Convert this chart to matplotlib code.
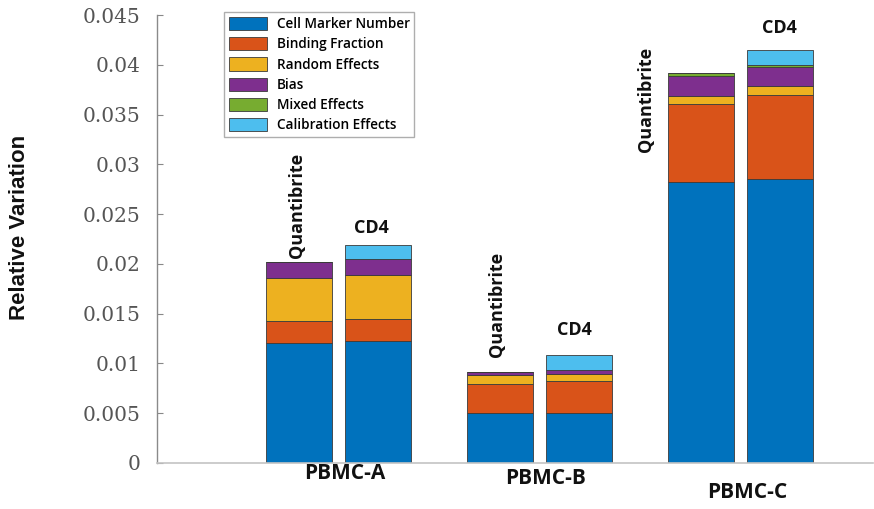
import numpy as np
import matplotlib
matplotlib.use("Agg")
import matplotlib.pyplot as plt
from matplotlib.ticker import FixedLocator, FixedFormatter

# Sample groups and the two calibration references per group
categories = ["PBMC-A", "PBMC-B", "PBMC-C"]
references = ["Quantibrite", "CD4"]

components = ["Cell Marker Number", "Binding Fraction", "Random Effects",
              "Bias", "Mixed Effects", "Calibration Effects"]

# Variance contributions, Quantibrite reference
cell_marker_q = [0.0121, 0.0050, 0.0282]
binding_q = [0.0022, 0.0029, 0.0079]
random_q = [0.0043, 0.0009, 0.0008]
bias_q = [0.0016, 0.0003, 0.0020]
mixed_q = [0.0, 0.0, 0.0003]
calib_q = [0.0, 0.0, 0.0]

# Variance contributions, CD4 reference
cell_marker_cd4 = [0.0123, 0.0050, 0.0285]
binding_cd4 = [0.0022, 0.0032, 0.0085]
random_cd4 = [0.0044, 0.0007, 0.0009]
bias_cd4 = [0.0016, 0.0004, 0.0019]
mixed_cd4 = [0.0, 0.0, 0.0002]
calib_cd4 = [0.0014, 0.0015, 0.0015]

yticks = [0, 0.005, 0.01, 0.015, 0.02, 0.025, 0.03, 0.035, 0.04, 0.045]
ytick_labels = ["0", "0.005", "0.01", "0.015", "0.02", "0.025",
                "0.03", "0.035", "0.04", "0.045"]

colors = ["#0072BD", "#D95319", "#EDB120", "#7E2F8E", "#77AC30", "#4DBEEE"]

bold_font = "Open Sans"

fig = plt.figure(figsize=(8.74, 5.09), dpi=100)
ax = fig.add_axes([157 / 874, 46 / 509, 716 / 874, 448 / 509])

x = np.arange(1, len(categories) + 1)
offset = 0.196
width = 0.328

stacks = {
    "Quantibrite": [cell_marker_q, binding_q, random_q, bias_q, mixed_q, calib_q],
    "CD4": [cell_marker_cd4, binding_cd4, random_cd4, bias_cd4, mixed_cd4, calib_cd4],
}

handles = []
for ref, dx in zip(references, (-offset, offset)):
    bottom = np.zeros(len(categories))
    for i, vals in enumerate(stacks[ref]):
        vals = np.asarray(vals)
        bars = ax.bar(x + dx, vals, width, bottom=bottom, color=colors[i],
                      edgecolor="#3a3a3a", linewidth=0.6, label=components[i])
        if ref == "Quantibrite":
            handles.append(bars)
        bottom = bottom + vals

ax.set_xlim(0.0993, 3.656)
ax.set_ylim(0, 0.045)

ax.yaxis.set_major_locator(FixedLocator(yticks))
ax.yaxis.set_major_formatter(FixedFormatter(ytick_labels))
ax.tick_params(axis="y", direction="in", length=4, width=0.8, color="#888888",
               pad=12, labelsize=14.5, labelcolor="#555555")
for lab in ax.get_yticklabels():
    lab.set_family("DejaVu Serif")
ax.set_xticks([])

for side in ("top", "right"):
    ax.spines[side].set_visible(False)
ax.spines["left"].set_color("#8a8a8a")
ax.spines["bottom"].set_color("#c4c4c4")
ax.spines["left"].set_linewidth(1.0)
ax.spines["bottom"].set_linewidth(1.2)

ax.set_ylabel("Relative Variation", fontsize=16, fontweight="bold",
              family="Liberation Sans", color="#111111")
ax.yaxis.set_label_coords(-0.178, 0.525)

# Group names below the axis
xlabel_y = [-0.0011, -0.0016, -0.0030]
for xi, name, yy in zip(x, categories, xlabel_y):
    ax.text(xi + 0.03, yy, name, ha="center", va="center", fontsize=15,
            fontweight="bold", family=bold_font, color="#111111", clip_on=False)

# Reference labels above the bars
quanti_pos = [(0.794, 0.0206), (1.787, 0.01065), (2.526, 0.0312)]
cd4_pos = [(1.166, 0.0236), (2.174, 0.01336), (3.19, 0.0437)]
for (qx, qy), (cx, cy) in zip(quanti_pos, cd4_pos):
    ax.text(qx, qy, "Quantibrite", rotation=90, ha="center", va="bottom",
            fontsize=13, fontweight="bold", family=bold_font, color="#111111")
    ax.text(cx, cy, "CD4", ha="center", va="center", fontsize=13,
            fontweight="bold", family=bold_font, color="#111111")

leg = ax.legend(handles=handles, labels=components, loc="upper left",
                bbox_to_anchor=((224 - 157) / 716, (463 - 12) / 448),
                frameon=True, fancybox=False,
                prop={"family": bold_font, "weight": "semibold", "size": 9.8},
                handlelength=2.8, handleheight=1.1, labelspacing=0.45,
                handletextpad=0.7, borderpad=0.36, borderaxespad=0.0)
leg.get_frame().set_edgecolor("#9a9a9a")
leg.get_frame().set_linewidth(1.0)

fig.savefig("out.png", dpi=100)
